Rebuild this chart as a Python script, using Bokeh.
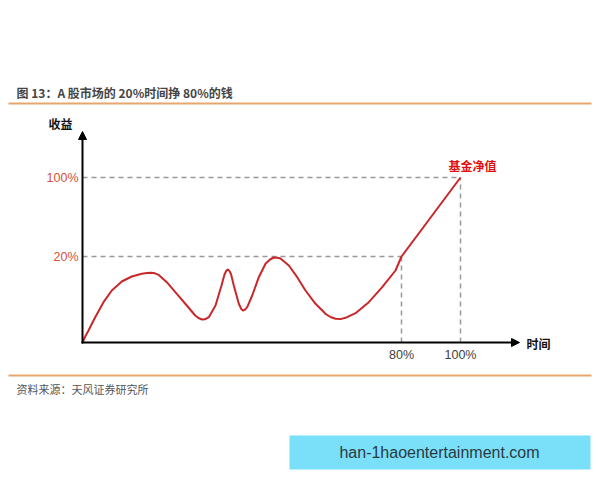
from bokeh.plotting import figure
from bokeh.models import Range1d, Arrow, NormalHead
from bokeh.core.properties import value
from bokeh.embed import file_html
from bokeh.resources import INLINE

# ---------------- data ----------------
title_text = "图 13：A 股市场的 20%时间挣 80%的钱"
source_text = "资料来源：天风证券研究所"
y_axis_name = "收益"
x_axis_name = "时间"
series_name = "基金净值"
watermark = "han-1haoentertainment.com"

# schematic curve (time, return level)
curve_t = [0, 3, 6, 12.7, 21, 29.3, 39.3, 49.3, 59.3, 64.5, 68.7, 72.5, 76, 84.3, 94.3, 104.3,
           112.7, 116, 119.5, 122.5, 126.3, 133, 139, 142, 143.8, 145.3, 146.8, 148.5,
           151.3, 156.3, 158.8, 160.5, 162.3, 164.7, 169.7, 176.3, 183, 187.5, 191.3,
           195, 198, 206.3, 214.7, 223, 233, 243, 248, 253, 258, 263, 273, 286.3,
           299.7, 313, 319, 378]
curve_v = [0, 6.5, 12, 25.3, 40.3, 52, 61, 66, 68.7, 69.5, 69.7, 69.2, 67.7, 60.3, 48.7, 37,
           27, 24.5, 23, 23.2, 25.3, 37, 57, 68, 71.8, 73, 71.8, 68.5,
           57, 38.7, 33.5, 32, 32.6, 35.3, 47, 65.3, 78.7, 83, 85,
           84.8, 84, 77, 65.3, 52, 38.7, 28.7, 25.5, 23.7, 23.4, 24.7, 29.3, 40.3,
           55.3, 72, 86, 165]

# guide levels
x_ticks = [319, 378]
x_tick_labels = ["80%", "100%"]
y_ticks = [86, 165]
y_tick_labels = ["20%", "100%"]

# ---------------- styling ----------------
RED = "#c8282a"
TICK_RED = "#d2503c"
ORANGE = "#e6a66c"
GRAY = "#999999"
CJK = "Noto Sans CJK SC"

W, H = 592, 472
# data space: 1 unit = 1 px, origin of the chart axes at picture (82, 342)
X0, Y0 = 82, 342
p = figure(width=W, height=H, output_backend="svg", toolbar_location=None,
           x_range=Range1d(-X0, W - X0), y_range=Range1d(Y0 - H, Y0),
           min_border=0, border_fill_color="white", background_fill_color="white")
p.axis.visible = False
p.grid.visible = False
p.outline_line_color = None

def py(v):  # picture y -> data y
    return Y0 - v
def px(v):
    return v - X0

# header / footer orange rules
p.line([px(8), px(591)], [py(103), py(103)], line_color=ORANGE, line_width=2)
p.line([px(8), px(591)], [py(375), py(375)], line_color=ORANGE, line_width=2)

p.text([px(16)], [py(92)], text=[title_text], text_font=value(CJK),
       text_font_size="12px", text_font_style="bold", text_color="#454545",
       text_baseline="middle", text_align="left")
p.text([px(16)], [py(388)], text=[source_text], text_font=value(CJK),
       text_font_size="11px", text_color="#555555",
       text_baseline="middle", text_align="left")

# dashed guides
for xt, yt in zip(x_ticks, y_ticks):
    p.line([0, xt], [yt, yt], line_color=GRAY, line_width=1.5, line_dash="5 4")
    p.line([xt, xt], [0, yt], line_color=GRAY, line_width=1.5, line_dash="5 4")

# curve
p.line(curve_t, curve_v, line_color=RED, line_width=2, line_join="round")

# axes with arrows
p.add_layout(Arrow(end=NormalHead(size=8, fill_color="black", line_color="black"),
                   x_start=0, y_start=-1, x_end=0, y_end=211,
                   line_color="black", line_width=2))
p.add_layout(Arrow(end=NormalHead(size=8, fill_color="black", line_color="black"),
                   x_start=-1, y_start=0, x_end=437, y_end=0,
                   line_color="black", line_width=2))

# tick labels
p.text([-4] * len(y_ticks), y_ticks, text=y_tick_labels, text_font=value("Liberation Sans"),
       text_font_size="12.5px", text_color=TICK_RED, text_baseline="middle", text_align="right")
p.text(x_ticks, [-12] * len(x_ticks), text=x_tick_labels, text_font=value("Liberation Sans"),
       text_font_size="12.5px", text_color="#404040", text_baseline="middle", text_align="center")

# axis names
p.text([px(60)], [py(123)], text=[y_axis_name], text_font=value(CJK), text_font_size="12px",
       text_font_style="bold", text_color="#111111", text_baseline="middle", text_align="center")
p.text([px(538)], [py(343)], text=[x_axis_name], text_font=value(CJK), text_font_size="12px",
       text_font_style="bold", text_color="#111111", text_baseline="middle", text_align="center")

# series label
p.text([curve_t[-1] + 12], [curve_v[-1] + 12], text=[series_name], text_font=value(CJK),
       text_font_size="12px", text_font_style="bold", text_color="#e01010",
       text_baseline="middle", text_align="center")

# watermark box
p.quad(left=[px(289)], right=[px(590)], top=[py(435)], bottom=[py(469)],
       fill_color="#7adff9", line_color=None)
p.text([px(439)], [py(452)], text=[watermark], text_font=value("Liberation Sans"),
       text_font_size="16px", text_color="#2b3a40", text_baseline="middle", text_align="center")

open("out.html", "w").write(file_html(p, INLINE))
